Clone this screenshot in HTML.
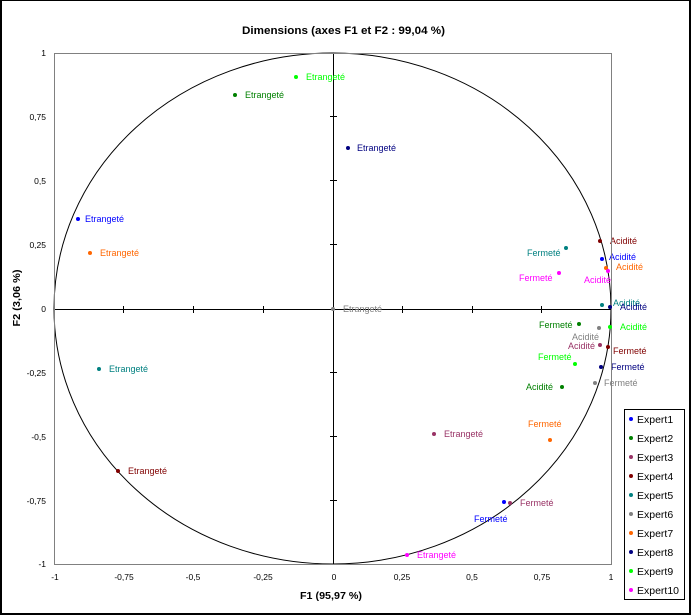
<!DOCTYPE html>
<html><head><meta charset="utf-8"><style>
html,body{margin:0;padding:0;background:#fff;}
svg{display:block;}
text{font-family:"Liberation Sans",Arial,sans-serif;}
</style></head><body>
<svg width="691" height="615" viewBox="0 0 691 615" xmlns="http://www.w3.org/2000/svg">
<rect x="0" y="0" width="691" height="615" fill="#fff"/>
<!-- outer border -->
<rect x="0" y="0" width="691" height="1" fill="#000"/>
<rect x="0" y="0" width="2" height="615" fill="#000"/>
<rect x="689" y="0" width="2" height="615" fill="#000"/>
<rect x="0" y="613" width="691" height="2" fill="#000"/>

<!-- title -->
<text x="242" y="34" font-size="11" font-weight="bold" textLength="203" lengthAdjust="spacingAndGlyphs">Dimensions (axes F1 et F2 : 99,04 %)</text>

<!-- ellipse -->
<ellipse cx="332.5" cy="308.5" rx="278.5" ry="255.5" fill="none" stroke="#000" stroke-width="1"/>

<!-- axes -->
<line x1="54" y1="309.5" x2="611" y2="309.5" stroke="#000" stroke-width="1"/>
<line x1="333.5" y1="53" x2="333.5" y2="564" stroke="#000" stroke-width="1"/>
<g stroke="#000" stroke-width="1">
<line x1="123.5" y1="306" x2="123.5" y2="313"/>
<line x1="193.5" y1="306" x2="193.5" y2="313"/>
<line x1="263.5" y1="306" x2="263.5" y2="313"/>
<line x1="402.5" y1="306" x2="402.5" y2="313"/>
<line x1="472.5" y1="306" x2="472.5" y2="313"/>
<line x1="541.5" y1="306" x2="541.5" y2="313"/>
<line x1="330" y1="116.5" x2="337" y2="116.5"/>
<line x1="330" y1="180.5" x2="337" y2="180.5"/>
<line x1="330" y1="244.5" x2="337" y2="244.5"/>
<line x1="330" y1="372.5" x2="337" y2="372.5"/>
<line x1="330" y1="436.5" x2="337" y2="436.5"/>
<line x1="330" y1="500.5" x2="337" y2="500.5"/>
</g>

<!-- tick labels -->
<g font-size="8.5" fill="#000" text-anchor="middle">
<text x="55" y="580">-1</text>
<text x="124" y="580">-0,75</text>
<text x="193" y="580">-0,5</text>
<text x="263" y="580">-0,25</text>
<text x="334" y="580">0</text>
<text x="402" y="580">0,25</text>
<text x="472" y="580">0,5</text>
<text x="542" y="580">0,75</text>
<text x="611" y="580">1</text>
</g>
<g font-size="8.5" fill="#000" text-anchor="end">
<text x="46" y="56">1</text>
<text x="46" y="120">0,75</text>
<text x="46" y="184">0,5</text>
<text x="46" y="248">0,25</text>
<text x="46" y="312">0</text>
<text x="46" y="376">-0,25</text>
<text x="46" y="440">-0,5</text>
<text x="46" y="504">-0,75</text>
<text x="46" y="567">-1</text>
</g>

<!-- axis titles -->
<text x="331" y="599" font-size="10" font-weight="bold" text-anchor="middle" textLength="62" lengthAdjust="spacingAndGlyphs">F1 (95,97 %)</text>
<text transform="translate(20,298) rotate(-90)" font-size="10" font-weight="bold" text-anchor="middle" textLength="57" lengthAdjust="spacingAndGlyphs">F2 (3,06 %)</text>

<!-- data labels -->
<g font-size="9">
<!-- Etrangeté -->
<text x="306" y="80" fill="#00FF00">Etrangeté</text>
<text x="245" y="98" fill="#008000">Etrangeté</text>
<text x="357" y="151" fill="#000080">Etrangeté</text>
<text x="85" y="222" fill="#0000FF">Etrangeté</text>
<text x="100" y="256" fill="#FF6600">Etrangeté</text>
<text x="343" y="312" fill="#808080">Etrangeté</text>
<text x="109" y="372" fill="#008080">Etrangeté</text>
<text x="128" y="474" fill="#800000">Etrangeté</text>
<text x="444" y="437" fill="#993366">Etrangeté</text>
<text x="417" y="558" fill="#FF00FF">Etrangeté</text>
<!-- Fermeté -->
<text x="474" y="522" fill="#0000FF">Fermeté</text>
<text x="520" y="506" fill="#993366">Fermeté</text>
<text x="528" y="427" fill="#FF6600">Fermeté</text>
<text x="527" y="256" fill="#008080">Fermeté</text>
<text x="519" y="281" fill="#FF00FF">Fermeté</text>
<text x="539" y="328" fill="#008000">Fermeté</text>
<text x="538" y="360" fill="#00FF00">Fermeté</text>
<text x="613" y="354" fill="#800000">Fermeté</text>
<text x="611" y="370" fill="#000080">Fermeté</text>
<text x="604" y="386" fill="#808080">Fermeté</text>
<!-- Acidité -->
<text x="610" y="244" fill="#800000">Acidité</text>
<text x="609" y="260" fill="#0000FF">Acidité</text>
<text x="616" y="270" fill="#FF6600">Acidité</text>
<text x="584" y="283" fill="#FF00FF">Acidité</text>
<text x="613" y="306" fill="#008080">Acidité</text>
<text x="620" y="310" fill="#000080">Acidité</text>
<text x="620" y="330" fill="#00FF00">Acidité</text>
<text x="572" y="340" fill="#808080">Acidité</text>
<text x="568" y="349" fill="#993366">Acidité</text>
<text x="526" y="390" fill="#008000">Acidité</text>
</g>

<!-- plot frame -->
<rect x="54.5" y="53.5" width="557" height="511" fill="none" stroke="#808080" stroke-width="1"/>

<!-- points -->
<g>
<circle cx="296" cy="77" r="2" fill="#00FF00"/>
<circle cx="235" cy="95" r="2" fill="#008000"/>
<circle cx="348" cy="148" r="2" fill="#000080"/>
<circle cx="78" cy="219" r="2" fill="#0000FF"/>
<circle cx="90" cy="253" r="2" fill="#FF6600"/>
<circle cx="333" cy="309" r="2" fill="#808080"/>
<circle cx="99" cy="369" r="2" fill="#008080"/>
<circle cx="118" cy="471" r="2" fill="#800000"/>
<circle cx="434" cy="434" r="2" fill="#993366"/>
<circle cx="407" cy="555" r="2" fill="#FF00FF"/>

<circle cx="504" cy="502" r="2" fill="#0000FF"/>
<circle cx="510" cy="503" r="2" fill="#993366"/>
<circle cx="550" cy="440" r="2" fill="#FF6600"/>
<circle cx="566" cy="248" r="2" fill="#008080"/>
<circle cx="559" cy="273" r="2" fill="#FF00FF"/>
<circle cx="579" cy="324" r="2" fill="#008000"/>
<circle cx="575" cy="364" r="2" fill="#00FF00"/>
<circle cx="608" cy="347" r="2" fill="#800000"/>
<circle cx="601" cy="367" r="2" fill="#000080"/>
<circle cx="595" cy="383" r="2" fill="#808080"/>

<circle cx="600" cy="241" r="2" fill="#800000"/>
<circle cx="602" cy="259" r="2" fill="#0000FF"/>
<circle cx="606" cy="268" r="2" fill="#FF6600"/>
<circle cx="608" cy="271" r="2" fill="#FF00FF"/>
<circle cx="602" cy="305" r="2" fill="#008080"/>
<circle cx="610" cy="307" r="2" fill="#000080"/>
<circle cx="610" cy="327" r="2" fill="#00FF00"/>
<circle cx="599" cy="328" r="2" fill="#808080"/>
<circle cx="600" cy="345" r="2" fill="#993366"/>
<circle cx="562" cy="387" r="2" fill="#008000"/>
</g>

<!-- legend -->
<rect x="624.5" y="409.5" width="60" height="190" fill="#fff" stroke="#000" stroke-width="1"/>
<g font-size="10.5" fill="#000">
<circle cx="631" cy="419" r="2" fill="#0000FF"/><text x="637" y="423">Expert1</text>
<circle cx="631" cy="438" r="2" fill="#008000"/><text x="637" y="442">Expert2</text>
<circle cx="631" cy="457" r="2" fill="#993366"/><text x="637" y="461">Expert3</text>
<circle cx="631" cy="476" r="2" fill="#800000"/><text x="637" y="480">Expert4</text>
<circle cx="631" cy="495" r="2" fill="#008080"/><text x="637" y="499">Expert5</text>
<circle cx="631" cy="514" r="2" fill="#808080"/><text x="637" y="518">Expert6</text>
<circle cx="631" cy="533" r="2" fill="#FF6600"/><text x="637" y="537">Expert7</text>
<circle cx="631" cy="552" r="2" fill="#000080"/><text x="637" y="556">Expert8</text>
<circle cx="631" cy="571" r="2" fill="#00FF00"/><text x="637" y="575">Expert9</text>
<circle cx="631" cy="590" r="2" fill="#FF00FF"/><text x="637" y="594">Expert10</text>
</g>
</svg>
</body></html>
